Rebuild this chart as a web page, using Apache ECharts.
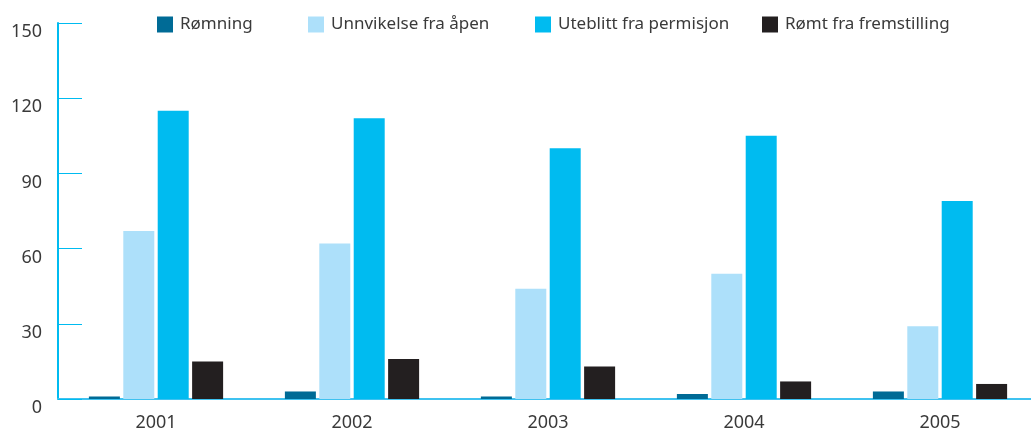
<!DOCTYPE html>
<html>
<head>
<meta charset="utf-8">
<script src="https://cdn.jsdelivr.net/npm/echarts@6/dist/echarts.min.js"></script>
<style>
 html, body { margin: 0; padding: 0; background: #fff; overflow: hidden; }
 #chart1 { width: 1038px; height: 432px; }
</style>
</head>
<body>
<div id="chart1"></div>
<script>
var years = ['2001', '2002', '2003', '2004', '2005'];
var romning = [1, 3, 1, 2, 3];
var unnvikelse = [67, 62, 44, 50, 29];
var uteblitt = [115, 112, 100, 105, 79];
var romtFremstilling = [15, 16, 13, 7, 6];

var names = ['Rømning', 'Unnvikelse fra åpen', 'Uteblitt fra permisjon', 'Rømt fra fremstilling'];
var colors = ['#006b96', '#ade0fa', '#00bbf0', '#231f20'];
var legendLeft = [152, 303, 530, 757];

var dom = document.getElementById("chart1");
var myChart = echarts.init(dom);
var fontFam = 'Noto Sans';
var txtColor = '#3a3a3a';

var legends = names.map(function (n, i) {
 return {
	 data: [n],
	 left: legendLeft[i],
	 top: 11,
	 itemWidth: 16,
	 itemHeight: 16,
	 icon: 'rect',
	 textStyle: { fontFamily: fontFam, fontSize: 17, color: txtColor, padding: [0, 0, 0, 2] }
 };
});

var option = {
 animation: false,
 color: colors,
 legend: legends,
 grid: {
	 left: 58,
	 right: 0,
	 top: 23,
	 bottom: 33,
	 containLabel: false
 },
 xAxis: {
	 type: 'category',
	 data: years,
	 axisLine: { lineStyle: { color: '#3fc2f0', width: 2 } },
	 axisTick: { inside: true, length: 10, lineStyle: { color: '#00bbf0', width: 2 } },
	 axisLabel: { fontFamily: fontFam, fontSize: 18, color: txtColor, margin: 15 }
 },
 yAxis: {
	 type: 'value',
	 min: 0,
	 max: 150,
	 interval: 30,
	 splitLine: { show: false },
	 axisLine: { show: true, lineStyle: { color: '#00bbf0', width: 2 } },
	 axisTick: { show: true, inside: true, length: 24, lineStyle: { color: '#00bbf0', width: 1 } },
	 axisLabel: { fontFamily: fontFam, fontSize: 18, color: txtColor, margin: 16, verticalAlign: 'top', padding: [0, 0, 0, 0] }
 },
 series: [
	 { name: names[0], type: 'bar', data: romning, barWidth: 31, barGap: '11%' },
	 { name: names[1], type: 'bar', data: unnvikelse, barWidth: 31, barGap: '11%' },
	 { name: names[2], type: 'bar', data: uteblitt, barWidth: 31, barGap: '11%' },
	 { name: names[3], type: 'bar', data: romtFremstilling, barWidth: 31, barGap: '11%' }
 ]
};

myChart.setOption(option);
</script>
</body>
</html>
